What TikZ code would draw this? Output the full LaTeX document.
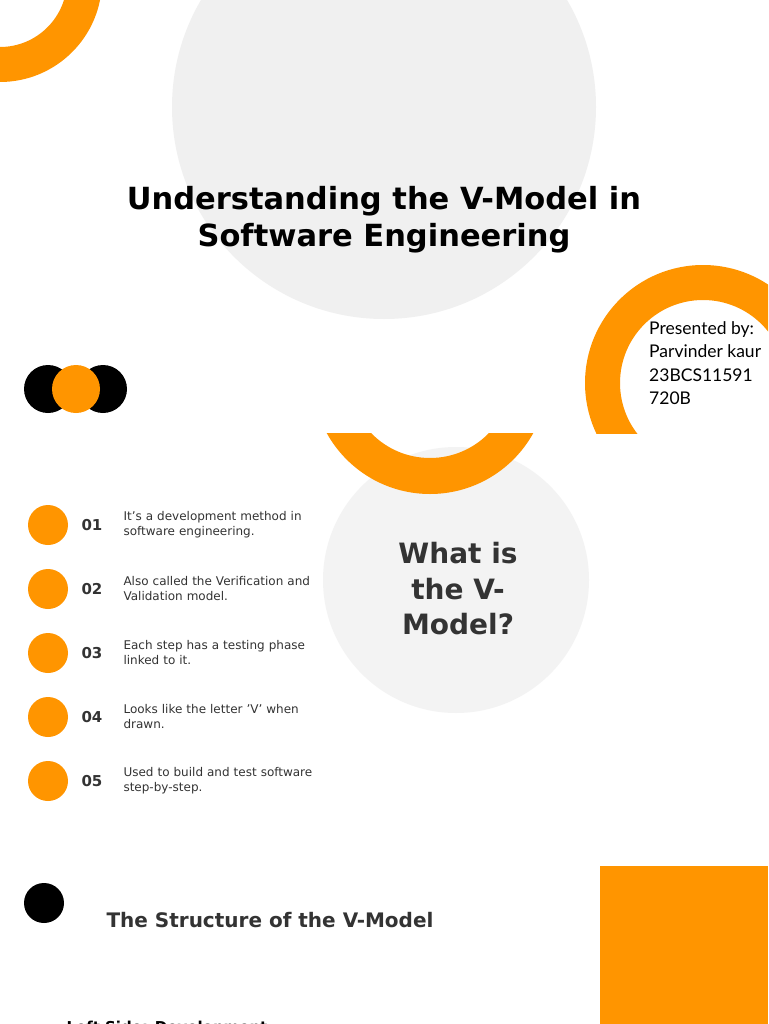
\documentclass[tikz,border=0pt]{standalone}
\usepackage{fontspec}
\setmainfont{DejaVu Sans}
\newfontfamily\latofont{Lato}
\definecolor{org}{HTML}{FF9500}
\definecolor{dk}{HTML}{333333}
\definecolor{gA}{HTML}{F0F0F0}
\definecolor{gB}{HTML}{F3F3F3}
\newcommand{\sq}{\char"27\relax}
\begin{document}
\begin{tikzpicture}[x=1pt,y=-1pt,
  num/.style={font=\bfseries\fontsize{15}{17}\selectfont,text=dk,anchor=west},
  item/.style={font=\fontsize{12}{15}\selectfont,text=dk,anchor=west,align=left,text width=220pt},
  dot/.style={fill=org,draw=none}]
\useasboundingbox (0,0) rectangle (768,1024);
\clip (0,0) rectangle (768,1024);
\fill[white] (0,0) rectangle (768,1024);
% grey circles
\fill[gA] (384,107) circle (212);
\fill[gB] (456,580) circle (133);
% rings
\fill[org,even odd rule] (0,-20) circle (102) (0,-20) circle (67);
\begin{scope}
\clip (0,0) rectangle (768,433);
\fill[org,even odd rule] (703,383) circle (118) (703,383) circle (83);
\end{scope}
\begin{scope}
\clip (0,433) rectangle (768,600);
\fill[org,even odd rule] (430,376) circle (118) (430,376) circle (82);
\end{scope}
% title
\node[font=\bfseries\fontsize{30.5}{37}\selectfont,align=center] (title) at (384,220) {Understanding the V-Model in\\Software Engineering};
\node[font=\latofont\fontsize{17.5}{23.5}\selectfont,anchor=north west,align=left,inner sep=0] (pres) at (649,321) {Presented by:\\Parvinder kaur\\23BCS11591\\720B};
% three circles
\fill[black] (48,389) circle (24);
\fill[black] (103,389) circle (24);
\fill[org] (76,389) circle (24);
% list
\foreach \y/\n/\t in {525/01/{It\sq s a development method in\\software engineering.},
  589/02/{Also called the Verification and\\Validation model.},
  653/03/{Each step has a testing phase\\linked to it.},
  717/04/{Looks like the letter \sq V\sq\ when\\drawn.},
  781/05/{Used to build and test software\\step-by-step.}}{
  \fill[org] (48,\y) circle (20);
  \node[num] at (78,\y) {\n};
  \node[item] at (120,\y) {\t};
}
\node[font=\bfseries\fontsize{28}{35.5}\selectfont,text=dk,align=center] (what) at (458,589) {What is\\the V-\\Model?};
% structure
\fill[black] (44,903) circle (20);
\node[font=\bfseries\fontsize{20}{22}\selectfont,text=dk,anchor=west] (struct) at (103,920) {The Structure of the V-Model};
\fill[org] (600,866) rectangle (768,1024);
\node[font=\bfseries\fontsize{15}{17}\selectfont,anchor=west] (left) at (63,1028) {Left Side: Development};
\end{tikzpicture}
\end{document}
